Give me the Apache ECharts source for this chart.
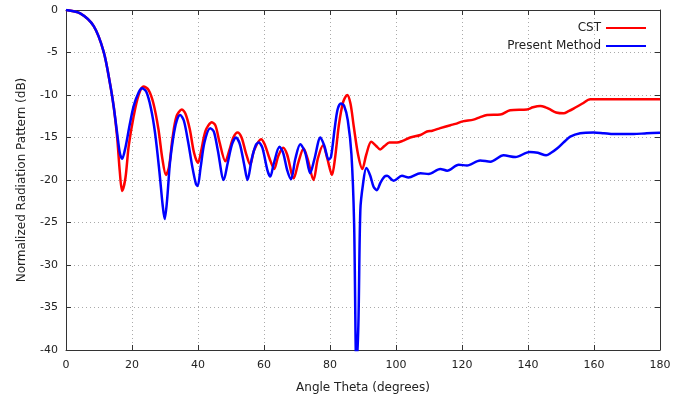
<!DOCTYPE html>
<html>
<head>
<meta charset="utf-8">
<script src="https://cdn.jsdelivr.net/npm/echarts@6/dist/echarts.min.js"></script>
<style>html,body{margin:0;padding:0;background:#fff}#c{width:697px;height:400px}</style>
</head>
<body>
<div id="c"></div>
<script>
const xTicks = [0,20,40,60,80,100,120,140,160,180];
const yTicks = [0,-5,-10,-15,-20,-25,-30,-35,-40];

const cstTheta = [0,4.3,8.4,11.4,13.4,14.5,15.5,16.3,17.0,18.0,19.0,20.5,22,23.5,25,26.5,28,29.2,30.3,31.2,32.3,33.5,35.1,36.2,37.5,38.8,40,41,42.3,44.2,45.3,46.5,48.3,49.5,50.7,52,53.2,54.5,55.8,57,59.1,60.2,61.7,63.1,64.3,65.8,67,69,70.5,72,73.2,75,76.3,77.9,79.2,80.6,81.5,82.7,84,85.2,86.2,87.2,88.5,89.8,91,92.5,94,95.2,96.5,98,100.3,102,104.3,107.4,109.4,111,113.4,116.5,118,120.2,123.5,125.5,127.6,131.6,134.6,139.7,141.5,143.7,145.3,146.7,148.5,150.8,152.3,153.8,156.5,158.9,180];
const cstDb = [0,-0.4,-1.9,-4.9,-8.8,-11.5,-15,-19,-21.3,-19.8,-16,-12.5,-10,-9.0,-9.4,-11,-14,-17.5,-19.4,-18.5,-15,-12.5,-11.7,-12.2,-14,-16.8,-18.0,-16.5,-14.2,-13.2,-13.6,-15.5,-17.8,-16.5,-15,-14.4,-15,-16.8,-18.2,-16.5,-15.2,-15.8,-17.5,-18.7,-17.2,-16.2,-17,-19.8,-17.8,-16.3,-17.5,-20,-17.5,-15.9,-17.5,-19.4,-17.5,-13.5,-10.8,-10.0,-11,-13.7,-17,-18.7,-17,-15.5,-16,-16.4,-16,-15.6,-15.6,-15.4,-15.0,-14.7,-14.3,-14.2,-13.9,-13.55,-13.4,-13.1,-12.9,-12.6,-12.35,-12.3,-11.8,-11.7,-11.45,-11.3,-11.45,-11.7,-12.05,-12.15,-11.9,-11.6,-11.0,-10.5,-10.5];

const pmTheta = [0,4.3,8.4,11.4,13.4,14.5,15.5,16.3,17.0,18,19.3,20.5,22,23.0,24.3,25.7,27,28.3,29.3,29.9,30.6,31.5,32.5,33.5,34.6,35.7,37,38.3,39.4,39.9,40.8,42,43.7,44.8,46,47.8,49,50.3,51.5,52.7,54,55.0,56.3,57.5,58.4,59.5,61.0,61.9,63,64.7,65.8,67,68.2,69.5,71.0,72.5,74,75.3,77.1,78.3,79.6,80.3,81.4,82.3,83.3,84.3,85.4,86.5,87.3,88.0,88.6,89.2,90.0,91.0,92.2,93.2,94.2,95.3,96.5,97.3,99.3,101.8,103.8,107.4,109.9,113.4,115.5,119,121.5,125.5,128.6,132.6,136.2,140.5,143,145.5,147,148.8,151,152.8,155.8,159.9,163,166,172,176,180];
const pmDb = [0,-0.4,-1.9,-4.9,-8.8,-11.5,-14.5,-16.8,-17.5,-16.2,-13.5,-11.3,-9.7,-9.2,-9.6,-11.5,-14.5,-19,-23,-24.6,-22.5,-18,-15,-13.1,-12.35,-13,-15.5,-18.5,-20.5,-20.7,-18.5,-15.5,-13.9,-14.3,-16.5,-20.0,-18,-15.8,-15.0,-15.8,-18.2,-20.0,-17.5,-15.9,-15.6,-16.2,-18.8,-19.6,-18,-16.1,-16.8,-18.8,-19.9,-17.5,-15.8,-16.8,-19.2,-17.5,-15.0,-16,-17.6,-17.3,-14,-11.7,-11.0,-11.3,-13,-17,-25,-42,-37,-23.5,-20.5,-18.6,-19.5,-20.8,-21.2,-20.3,-19.6,-19.5,-20.1,-19.5,-19.7,-19.2,-19.3,-18.7,-18.9,-18.2,-18.3,-17.7,-17.85,-17.1,-17.3,-16.7,-16.8,-17.1,-16.8,-16.3,-15.5,-14.9,-14.5,-14.4,-14.5,-14.6,-14.6,-14.5,-14.45];

const zip = (a, b) => a.map((v, i) => [v, b[i]]);
const FONT = 'DejaVu Sans';
const txt = '#222';
const gridLine = { show: true, lineStyle: { color: '#aaa', type: [1, 3], width: 1 } };

const chart = echarts.init(document.getElementById('c'), null, { renderer: 'canvas' });
chart.setOption({
  animation: false,
  backgroundColor: '#fff',
  textStyle: { fontFamily: FONT },
  grid: { left: 66, right: 37, top: 10, bottom: 50, containLabel: false },
  legend: {
    orient: 'vertical', right: 46, top: 17, align: 'right', itemGap: 6,
    itemWidth: 40, itemHeight: 12,
    textStyle: { fontFamily: FONT, fontSize: 12, color: txt },
    data: [
      { name: 'CST', icon: 'path://M0,5 L40,5 L40,7 L0,7 Z' },
      { name: 'Present Method', icon: 'path://M0,5 L40,5 L40,7 L0,7 Z' }
    ]
  },
  xAxis: [{
    type: 'value', min: 0, max: 180, interval: 20,
    name: 'Angle Theta (degrees)', nameLocation: 'middle', nameGap: 32,
    nameTextStyle: { fontFamily: FONT, fontSize: 12, color: txt },
    axisLine: { show: true, onZero: false, lineStyle: { color: '#333', width: 1 } },
    axisTick: { show: true, inside: true, length: 5, lineStyle: { color: '#333' } },
    axisLabel: { fontFamily: FONT, fontSize: 11, color: txt, margin: 10 },
    splitLine: gridLine
  }, {
    type: 'value', min: 0, max: 180, interval: 20, position: 'top',
    axisLine: { show: true, onZero: false, lineStyle: { color: '#333', width: 1 } },
    axisTick: { show: true, inside: true, length: 5, lineStyle: { color: '#333' } },
    axisLabel: { show: false }, splitLine: { show: false }
  }],
  yAxis: [{
    type: 'value', min: -40, max: 0, interval: 5,
    name: 'Normalized Radiation Pattern (dB)', nameLocation: 'middle', nameGap: 38,
    nameTextStyle: { fontFamily: FONT, fontSize: 12, color: txt },
    axisLine: { show: true, onZero: false, lineStyle: { color: '#333', width: 1 } },
    axisTick: { show: true, inside: true, length: 5, lineStyle: { color: '#333' } },
    axisLabel: { fontFamily: FONT, fontSize: 11, color: txt, margin: 8 },
    splitLine: gridLine
  }, {
    type: 'value', min: -40, max: 0, interval: 5, position: 'right',
    axisLine: { show: true, onZero: false, lineStyle: { color: '#333', width: 1 } },
    axisTick: { show: true, inside: true, length: 5, lineStyle: { color: '#333' } },
    axisLabel: { show: false }, splitLine: { show: false }
  }],
  series: [{
    name: 'CST', type: 'line', data: zip(cstTheta, cstDb), showSymbol: false, symbol: 'none',
    smooth: 0.3, clip: true, color: '#ff0000', lineStyle: { color: '#ff0000', width: 2.5 }
  }, {
    name: 'Present Method', type: 'line', data: zip(pmTheta, pmDb), showSymbol: false, symbol: 'none',
    smooth: 0.3, clip: true, color: '#0000ff', lineStyle: { color: '#0000ff', width: 2.5 }
  }]
});
</script>
</body>
</html>
